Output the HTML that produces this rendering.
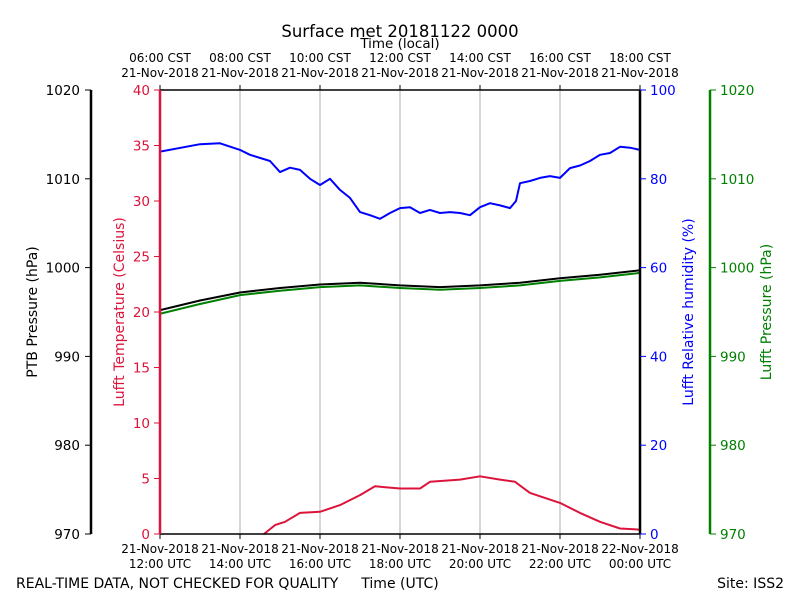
<!DOCTYPE html>
<html><head><meta charset="utf-8"><style>
body{margin:0;background:#fff}
svg{display:block;font-family:"DejaVu Sans","Liberation Sans",sans-serif}
</style></head><body>
<svg id="c" width="800" height="600">
<text x="400" y="37" font-size="16.5" text-anchor="middle">Surface met 20181122 0000</text>
<text x="400" y="48" font-size="13.5" text-anchor="middle">Time (local)</text>
<text x="16" y="588" font-size="14">REAL-TIME DATA, NOT CHECKED FOR QUALITY</text>
<text x="400" y="588" font-size="14" text-anchor="middle">Time (UTC)</text>
<text x="784" y="588" font-size="14" text-anchor="end">Site: ISS2</text>
<g id="g"></g>
</svg>
<script>
const rhX=[0,1,1.5,2,2.25,2.75,3,3.25,3.5,3.75,4,4.25,4.5,4.75,5,5.25,5.5,5.75,6,6.25,6.5,6.75,7,7.25,7.5,7.75,8,8.25,8.5,8.75,8.9,9,9.25,9.5,9.75,10,10.25,10.5,10.75,11,11.25,11.5,11.75,12];
const rhV=[86.1,87.8,88,86.5,85.4,84,81.5,82.5,82,80,78.6,80,77.5,75.7,72.5,71.8,71,72.3,73.4,73.6,72.3,73,72.3,72.5,72.3,71.8,73.6,74.5,74,73.4,75,79,79.5,80.2,80.6,80.2,82.4,83,84,85.4,85.8,87.2,87,86.5];
const tX=[0,2,2.6,2.875,3.125,3.5,4,4.5,5,5.375,6,6.5,6.75,7.5,8,8.5,8.875,9.25,10,10.5,11,11.5,12];
const tV=[-1,-1,0,0.8,1.1,1.9,2.0,2.6,3.5,4.3,4.1,4.1,4.7,4.9,5.2,4.9,4.7,3.7,2.8,1.9,1.1,0.5,0.4];
const pX=[0,1,2,3,4,5,6,7,8,9,10,11,12];
const ptbV=[995.2,996.3,997.2,997.7,998.1,998.3,998.0,997.8,998.0,998.3,998.8,999.2,999.7];
const luftPV=[994.8,995.9,996.9,997.4,997.8,998.0,997.7,997.5,997.7,998.0,998.5,998.9,999.4];
const utcTop=["12:00 UTC","14:00 UTC","16:00 UTC","18:00 UTC","20:00 UTC","22:00 UTC","00:00 UTC"];
const utcDate=["21-Nov-2018","21-Nov-2018","21-Nov-2018","21-Nov-2018","21-Nov-2018","21-Nov-2018","22-Nov-2018"];
const cstTop=["06:00 CST","08:00 CST","10:00 CST","12:00 CST","14:00 CST","16:00 CST","18:00 CST"];
const cstDate=["21-Nov-2018","21-Nov-2018","21-Nov-2018","21-Nov-2018","21-Nov-2018","21-Nov-2018","21-Nov-2018"];
const presTicks=[970,980,990,1000,1010,1020];
const tempTicks=[0,5,10,15,20,25,30,35,40];
const rhTicks=[0,20,40,60,80,100];

const L=160,R=640,T=90,B=534,NS="http://www.w3.org/2000/svg",g=document.getElementById('g');
const xs=h=>L+(R-L)*h/12;
const yP=v=>B-(B-T)*(v-970)/50, yT=v=>B-(B-T)*v/40, yR=v=>B-(B-T)*v/100;
function el(t,a,txt){const e=document.createElementNS(NS,t);for(const k in a)e.setAttribute(k,a[k]);if(txt!==undefined)e.textContent=txt;g.appendChild(e);return e;}
for(let i=1;i<6;i++){const e=el('line',{x1:xs(i*2),x2:xs(i*2),y1:T,y2:B,stroke:'#b0b0b0','stroke-width':1});

}
const cp=el('clipPath',{id:'pc'});cp.appendChild(document.createElementNS(NS,'rect'));
const cr=cp.firstChild;cr.setAttribute('x',L);cr.setAttribute('y',T);cr.setAttribute('width',R-L);cr.setAttribute('height',B-T);
function line(X,V,fy,col,name){const d=X.map((h,i)=>(i?'L':'M')+xs(h).toFixed(1)+' '+fy(V[i]).toFixed(1)).join('');
const e=el('path',{d:d,fill:'none',stroke:col,'stroke-width':2,'clip-path':'url(#pc)','stroke-linejoin':'round'});

}
line(pX,luftPV,yP,'#008000','luft-pressure-line');
line(pX,ptbV,yP,'#000','ptb-pressure-line');
line(rhX,rhV,yR,'#0000ff','humidity-line');
line(tX,tV,yT,'#dc143c','temperature-line');
el('line',{x1:L,x2:R,y1:T,y2:T,stroke:'#000','stroke-width':1.5});
el('line',{x1:L,x2:R,y1:B,y2:B,stroke:'#000','stroke-width':1.5});
el('line',{x1:L,x2:L,y1:T,y2:B,stroke:'#dc143c','stroke-width':2.5});
el('line',{x1:R,x2:R,y1:T,y2:B,stroke:'#000','stroke-width':2.5});
el('line',{x1:91,x2:91,y1:T,y2:B,stroke:'#000','stroke-width':2.5});
el('line',{x1:710,x2:710,y1:T,y2:B,stroke:'#008000','stroke-width':2.5});
utcTop.forEach((s,i)=>{const x=xs(i*2);
el('line',{x1:x,x2:x,y1:B,y2:B+5,stroke:'#000'});el('line',{x1:x,x2:x,y1:T,y2:T-5,stroke:'#000'});
const a=el('text',{x:x,y:553,'font-size':12,'text-anchor':'middle'},utcDate[i]);


const b=el('text',{x:x,y:568,'font-size':12,'text-anchor':'middle'},s);


const c=el('text',{x:x,y:62,'font-size':12,'text-anchor':'middle'},cstTop[i]);


const d=el('text',{x:x,y:77,'font-size':12,'text-anchor':'middle'},cstDate[i]);

});
presTicks.forEach(v=>{const y=yP(v);
el('line',{x1:85,x2:91,y1:y,y2:y,stroke:'#000'});
const a=el('text',{x:80,y:y+5,'font-size':13.5,'text-anchor':'end'},v);


el('line',{x1:710,x2:716,y1:y,y2:y,stroke:'#008000'});
const b=el('text',{x:720,y:y+5,'font-size':13.5,fill:'#008000'},v);

});
tempTicks.forEach(v=>{const y=yT(v);
el('line',{x1:154,x2:160,y1:y,y2:y,stroke:'#dc143c'});
const a=el('text',{x:150,y:y+5,'font-size':13.5,'text-anchor':'end',fill:'#dc143c'},v);

});
rhTicks.forEach(v=>{const y=yR(v);
el('line',{x1:640,x2:646,y1:y,y2:y,stroke:'#0000ff'});
const a=el('text',{x:650,y:y+5,'font-size':13.5,fill:'#0000ff'},v);

});
function ylab(x,t,col,name){const e=el('text',{x:x,y:312,'font-size':14,fill:col,'text-anchor':'middle',transform:`rotate(-90 ${x} 312)`},t);

}
ylab(37,'PTB Pressure (hPa)','#000','ptb-axis-title');
ylab(124,'Lufft Temperature (Celsius)','#dc143c','temp-axis-title');
ylab(693,'Lufft Relative humidity (%)','#0000ff','rh-axis-title');
ylab(771,'Lufft Pressure (hPa)','#008000','luft-pressure-axis-title');
</script>
</body></html>
